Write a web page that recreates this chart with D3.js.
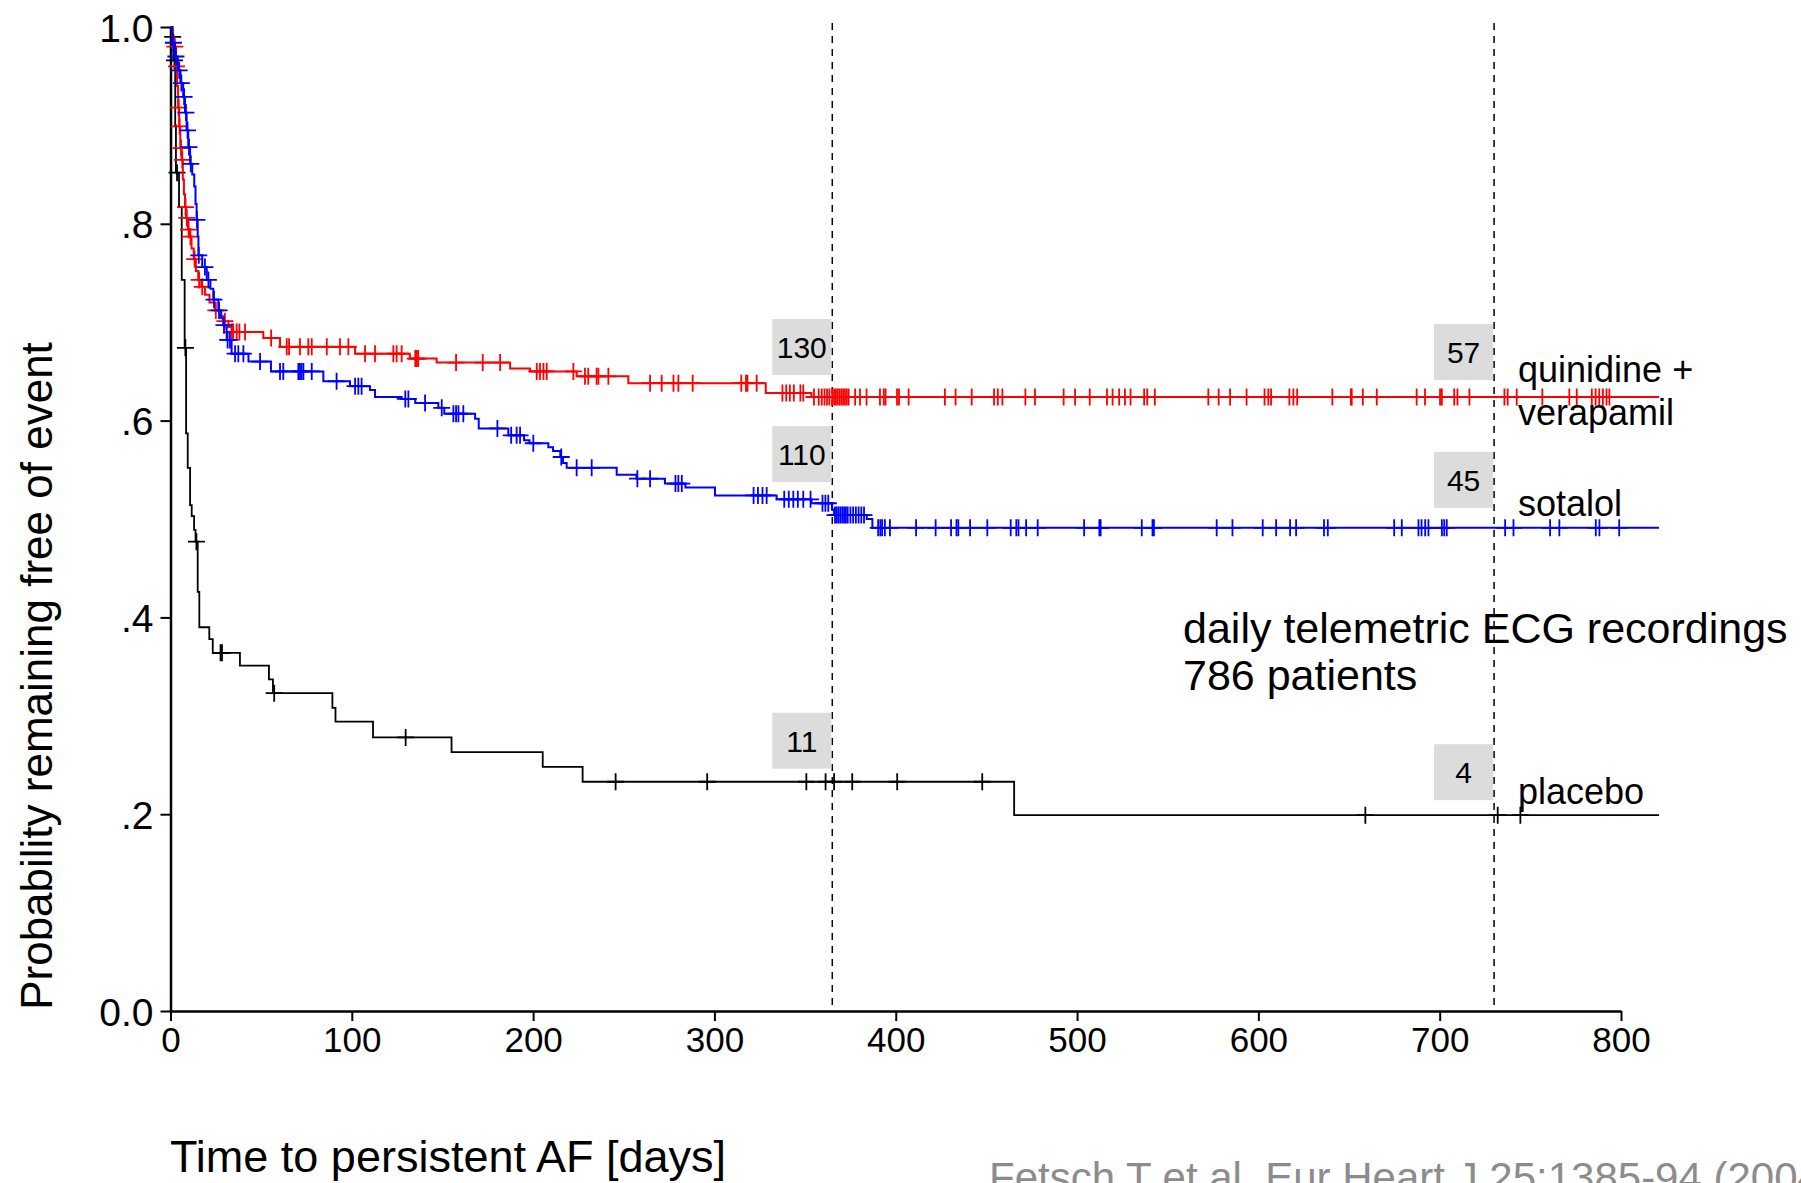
<!DOCTYPE html>
<html>
<head>
<meta charset="utf-8">
<script src="https://cdn.jsdelivr.net/npm/d3@7"></script>
<style>
    body { margin: 0; background: #fff; }
    svg text { font-family: "Liberation Sans", Arial, Helvetica, sans-serif; }
</style>
</head>
<body>
<svg id="km" width="1801" height="1183"></svg>
<script>
// axis ticks
const xTicks = [0, 100, 200, 300, 400, 500, 600, 700, 800];
const yTicks = [0, 0.2, 0.4, 0.6, 0.8, 1.0];
const yTickLabels = ["0.0", ".2", ".4", ".6", ".8", "1.0"];
const lastDay = 821;

// landmark days with numbers at risk
const landmarkDays = [365, 730];
const redAtRisk = [130, 57];
const blueAtRisk = [110, 45];
const blackAtRisk = [11, 4];

// placebo (black) step curve + censored times
const placeboDays = [0, 0.8, 1.6, 2.6, 3.0, 4.7, 6.2, 7.8, 8.6, 9.5, 10.8, 11.7, 13.0, 13.8, 15.0, 15.9, 21.4, 23.3, 38.3, 54.3, 56.5, 89.3, 91.0, 111.7, 155.0, 205.3, 227.3, 465.3];
const placeboSurv = [1.0, 0.990, 0.966, 0.900, 0.852, 0.817, 0.743, 0.674, 0.587, 0.552, 0.514, 0.503, 0.489, 0.477, 0.426, 0.390, 0.378, 0.364, 0.351, 0.337, 0.323, 0.308, 0.294, 0.278, 0.263, 0.248, 0.233, 0.199];
const placeboCensored = [1.2, 2.2, 3.6, 8.2, 14.3, 27.6, 28.4, 57.2, 129.7, 245.5, 296, 350.7, 361.3, 366, 376, 400.8, 447.7, 659, 732, 744.5];

// quinidine + verapamil (red)
const redDays = [0, 1.2, 2.0, 3.0, 3.6, 4.2, 4.8, 5.4, 6.2, 6.8, 7.4, 8.0, 8.6, 9.6, 10.6, 11.6, 12.8, 14.0, 15.3, 17.0, 19.0, 21.5, 24.5, 27.0, 29.5, 32.0, 33.7, 51.2, 60.4, 101.8, 132, 146.8, 187.3, 198.3, 224, 252.5, 328.3, 353.5];
const redSurv = [1.0, 0.990, 0.980, 0.960, 0.940, 0.918, 0.899, 0.877, 0.865, 0.845, 0.830, 0.817, 0.806, 0.794, 0.787, 0.775, 0.764, 0.752, 0.743, 0.736, 0.728, 0.720, 0.712, 0.706, 0.701, 0.695, 0.690, 0.684, 0.675, 0.668, 0.663, 0.659, 0.653, 0.650, 0.645, 0.638, 0.628, 0.624];
const redCensored = [2.4, 3.3, 4.5, 5.0, 5.8, 6.5, 8.3, 9.0, 10.0, 11.0, 13.3, 15.8, 17.5, 25.0, 30.0, 33.9, 34.6, 36.5, 38.0, 41.1, 55.5, 64.1, 65.4, 71.4, 76.0, 77.9, 86.2, 93.5, 98.1, 107.3, 112.8, 122.9, 124.7, 127.5, 135.0, 135.8, 136.6, 157.5, 172.2, 181.8, 202.0, 203.8, 205.7, 207.5, 222.2, 228.6, 230.4, 235.0, 236.0, 241.5, 264.5, 270.9, 277.4, 280.1, 288.0, 314.8, 317.4, 318.2, 323.3, 337.5, 339.6, 341.6, 343.8, 347.4, 349.0, 354.9, 357.5, 359.2, 360.7, 362.1, 363.4, 364.9, 366.0, 367.0, 368.0, 369.0, 370.0, 371.0, 372.0, 373.0, 374.0, 377.6, 380.3, 383.9, 391.3, 393.4, 394.4, 400.7, 401.8, 407.1, 427.1, 433.0, 441.9, 454.2, 456.3, 458.8, 471.5, 476.8, 492.6, 498.9, 507.0, 516.5, 519.6, 523.2, 526.4, 529.5, 537.0, 538.7, 542.9, 572.4, 578.1, 584.4, 593.5, 603.4, 605.5, 607.0, 617.1, 619.3, 621.4, 640.8, 651.0, 651.5, 657.6, 665.3, 687.3, 691.9, 700.2, 701.2, 708.0, 709.8, 716.4, 735.7, 737.5, 742.5, 756.6, 771.5, 775.6, 783.9, 786.0, 788.0, 790.0, 792.0, 793.6];

// sotalol (blue)
const blueDays = [0, 1.0, 2.5, 4.0, 5.5, 7.0, 8.0, 8.9, 9.8, 10.8, 12.0, 13.1, 13.8, 14.4, 15.0, 15.4, 17.5, 20.0, 22.0, 23.6, 26.4, 28.0, 29.1, 31.0, 33.7, 43.0, 55.4, 84.3, 99.0, 110.0, 112.8, 127.5, 135.0, 147.7, 151.0, 168.0, 170.0, 186.3, 195.0, 198.0, 208.4, 211.0, 215.0, 216.5, 218.5, 246.1, 257.0, 272.7, 284.0, 300.3, 334.3, 353.5, 364.8, 366.0, 384.0, 387.1];
const blueSurv = [1.0, 0.984, 0.970, 0.956, 0.943, 0.929, 0.913, 0.895, 0.878, 0.861, 0.850, 0.838, 0.820, 0.804, 0.787, 0.768, 0.756, 0.743, 0.734, 0.723, 0.712, 0.704, 0.697, 0.682, 0.668, 0.660, 0.650, 0.640, 0.635, 0.631, 0.624, 0.622, 0.618, 0.613, 0.607, 0.602, 0.592, 0.585, 0.580, 0.577, 0.573, 0.569, 0.563, 0.557, 0.552, 0.545, 0.541, 0.536, 0.532, 0.524, 0.520, 0.516, 0.510, 0.504, 0.500, 0.491];
const blueCensored = [1.6, 3.0, 4.8, 6.0, 7.5, 8.5, 9.4, 10.2, 11.2, 14.6, 15.6, 19.0, 20.9, 24.0, 26.8, 29.5, 31.5, 32.8, 35.6, 37.4, 40.2, 49.4, 60.4, 62.2, 70.5, 71.4, 72.3, 73.3, 77.9, 91.6, 101.8, 103.6, 105.4, 129.5, 131.2, 140.4, 149.6, 156.0, 157.5, 158.8, 161.5, 180.3, 187.9, 190.9, 192.8, 200.1, 215.5, 224.0, 232.3, 257.5, 264.5, 278.5, 280.1, 282.0, 321.6, 324.0, 326.5, 328.8, 338.5, 341.0, 343.5, 346.0, 349.0, 353.0, 359.6, 361.2, 362.8, 366.5, 367.5, 368.5, 369.5, 370.5, 371.5, 372.5, 373.5, 375.0, 376.5, 378.0, 379.5, 381.0, 382.5, 390.3, 391.5, 392.5, 394.0, 396.8, 411.2, 422.0, 430.5, 433.5, 434.5, 441.0, 450.5, 463.4, 466.5, 467.7, 471.9, 478.3, 503.9, 512.3, 513.0, 535.7, 541.6, 542.4, 577.0, 585.7, 602.4, 609.8, 617.5, 620.8, 636.2, 638.3, 674.9, 679.1, 688.3, 690.0, 692.0, 693.8, 701.2, 702.5, 703.9, 736.1, 740.7, 760.9, 766.0, 786.1, 788.1, 799.0];

// layout
const svg = d3.select("#km");
const x = d3.scaleLinear().domain([0, 800]).range([170.5, 1621]);
const y = d3.scaleLinear().domain([0, 1]).range([1011, 27]);

const series = [
    { days: placeboDays, surv: placeboSurv, cens: placeboCensored, color: "#000", width: 1.8, atRisk: blackAtRisk, boxLift: [41, 43], names: ["placebo"], nameDy: [-11] },
    { days: redDays, surv: redSurv, cens: redCensored, color: "#ff0000", width: 2, atRisk: redAtRisk, boxLift: [50, 45], names: ["quinidine +", "verapamil"], nameDy: [-15, 28] },
    { days: blueDays, surv: blueSurv, cens: blueCensored, color: "#0000ff", width: 2, atRisk: blueAtRisk, boxLift: [55, 48], names: ["sotalol"], nameDy: [-12] }
];

//value of the step function at time t
function survAt(s, t) {
    const i = d3.bisectRight(s.days, t) - 1;
    return s.surv[Math.max(i, 0)];
}

// dashed landmark lines
svg.selectAll(".landmark")
    .data(landmarkDays)
    .enter().append("line")
    .attr("x1", d => x(d)).attr("x2", d => x(d))
    .attr("y1", 23).attr("y2", y(0))
    .attr("stroke", "#000")
    .attr("stroke-width", 1.5)
    .attr("stroke-dasharray", "7,6");

// axes
const yAxis = svg.append("g")
    .attr("transform", "translate(" + x(0) + ",0)")
    .call(d3.axisLeft(y).tickValues(yTicks).tickSize(10).tickSizeOuter(0)
        .tickFormat((d, i) => yTickLabels[i]));
const xAxis = svg.append("g")
    .attr("transform", "translate(0," + y(0) + ")")
    .call(d3.axisBottom(x).tickValues(xTicks).tickSize(10).tickSizeOuter(0));

[xAxis, yAxis].forEach(g => {
    g.select(".domain").attr("stroke-width", 2.5);
    g.selectAll(".tick line").attr("stroke-width", 2);
    g.selectAll("text").attr("fill", "#000")
        .style("font-family", '"Liberation Sans", Arial, sans-serif');
});
yAxis.selectAll("text").attr("x", -17).attr("dy", "0.36em").style("font-size", "39px");
xAxis.selectAll("text").attr("y", 16).attr("dy", "0.71em").style("font-size", "35px");

// step curves
const line = d3.line().x(d => x(d[0])).y(d => y(d[1])).curve(d3.curveStepAfter);

series.forEach(s => {
    const pts = s.days.map((d, i) => [d, s.surv[i]]);
    pts.push([lastDay, s.surv[s.surv.length - 1]]);

    svg.append("path")
        .datum(pts)
        .attr("d", line)
        .attr("fill", "none")
        .attr("stroke", s.color)
        .attr("stroke-width", s.width);

    // censor marks
    svg.append("g").selectAll("path")
        .data(s.cens)
        .enter().append("path")
        .attr("d", t => {
            const cx = x(t), cy = y(survAt(s, t));
            return "M" + (cx - 8.5) + "," + cy + "H" + (cx + 8.5) + "M" + cx + "," + (cy - 8.5) + "V" + (cy + 8.5);
        })
        .attr("stroke", s.color)
        .attr("stroke-width", 1.8);
});

// numbers at risk
series.forEach(s => {
    landmarkDays.forEach((day, i) => {
        const cy = y(survAt(s, day)) - s.boxLift[i];
        const right = x(day) - 1;
        svg.append("rect")
            .attr("x", right - 59).attr("y", cy - 28)
            .attr("width", 59).attr("height", 56)
            .attr("fill", "#dcdcdc");
        svg.append("text")
            .attr("x", right - 29.5).attr("y", cy + 11)
            .attr("text-anchor", "middle")
            .style("font-size", "30px")
            .text(s.atRisk[i]);
    });

    // series names at the right end
    const endY = y(s.surv[s.surv.length - 1]);
    s.names.forEach((n, i) => {
        svg.append("text")
            .attr("x", 1518).attr("y", endY + s.nameDy[i])
            .style("font-size", "36px")
            .text(n);
    });
});

// note
svg.append("text")
    .attr("x", 1183).attr("y", 643)
    .style("font-size", "43px")
    .text("daily telemetric ECG recordings");
svg.append("text")
    .attr("x", 1183).attr("y", 690)
    .style("font-size", "43px")
    .text("786 patients");

// axis titles
svg.append("text")
    .attr("transform", "translate(52,676) rotate(-90)")
    .attr("text-anchor", "middle")
    .style("font-size", "44px")
    .text("Probability remaining free of event");
svg.append("text")
    .attr("x", 170).attr("y", 1172)
    .style("font-size", "45px")
    .text("Time to persistent AF [days]");

// source line (cut by the bottom edge)
svg.append("text")
    .attr("x", 989).attr("y", 1192)
    .attr("fill", "#8c8c8c")
    .style("font-size", "42px")
    .text("Fetsch T et al. Eur Heart J 25:1385-94 (2004)");
</script>
</body>
</html>
